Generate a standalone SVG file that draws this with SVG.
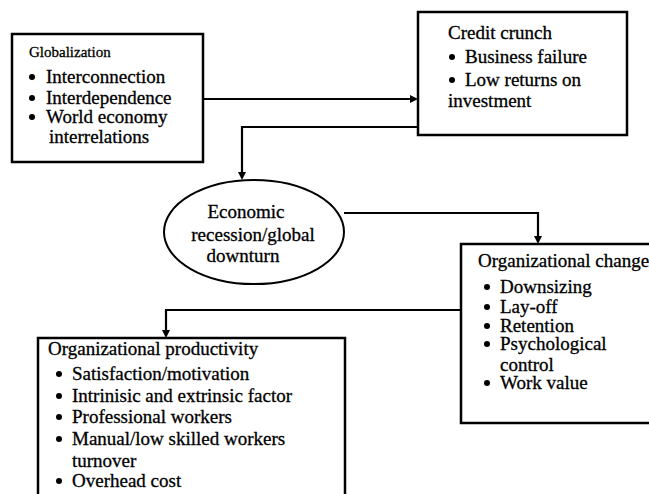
<svg xmlns="http://www.w3.org/2000/svg" width="649" height="494" viewBox="0 0 649 494">
<defs>
<style>
.box{fill:#fff;stroke:#000;stroke-width:2.5}
.b{fill:#000}
.conn{fill:none;stroke:#000;stroke-width:2.2}
.ah{fill:#000}
</style>
</defs>
<rect width="649" height="494" fill="#fff"/>
<g id="connectors">
<path class="conn" d="M203,99 H412"/>
<path class="ah" d="M410,95 L418,99 L410,103 z"/>
<path class="conn" d="M418,127 H242 V174"/>
<path class="ah" d="M238,172 L242,180 L246,172 z"/>
<path class="conn" d="M344,213 H538 V238"/>
<path class="ah" d="M534,236 L538,244 L542,236 z"/>
<path class="conn" d="M461,310 H166 V332"/>
<path class="ah" d="M162,330 L166,338 L170,330 z"/>
</g>
<g id="globalization">
<rect class="box" x="12" y="34" width="191" height="128"/>
<g font-family="Liberation Serif" font-size="19" fill="#000" stroke="#000" stroke-width="0.3">
<text font-size="15" x="29" y="57">Globalization</text>
<text x="46" y="83">Interconnection</text>
<text x="46" y="104">Interdependence</text>
<text x="46" y="123">World economy</text>
<text x="49" y="143">interrelations</text>
</g>
<circle class="b" cx="32" cy="77" r="3"/>
<circle class="b" cx="32" cy="98" r="3"/>
<circle class="b" cx="32" cy="117" r="3"/>
</g>
<g id="credit-crunch">
<rect class="box" x="418" y="12" width="209" height="123"/>
<g font-family="Liberation Serif" font-size="19" fill="#000" stroke="#000" stroke-width="0.3">
<text x="448" y="39">Credit crunch</text>
<text x="465" y="63">Business failure</text>
<text x="465" y="86">Low returns on</text>
<text x="448" y="107">investment</text>
</g>
<circle class="b" cx="452" cy="57" r="3"/>
<circle class="b" cx="452" cy="80" r="3"/>
</g>
<g id="recession">
<ellipse cx="254" cy="232" rx="90" ry="52" fill="#fff" stroke="#000" stroke-width="2"/>
<g font-family="Liberation Serif" font-size="19" fill="#000" stroke="#000" stroke-width="0.3" text-anchor="middle">
<text x="246" y="218">Economic</text>
<text x="253" y="241">recession/global</text>
<text x="243" y="262">downturn</text>
</g>
</g>
<g id="org-change">
<rect class="box" x="461" y="244" width="200" height="179"/>
<g font-family="Liberation Serif" font-size="19" fill="#000" stroke="#000" stroke-width="0.3">
<text x="478" y="267">Organizational change</text>
<text x="500" y="293">Downsizing</text>
<text x="500" y="313">Lay-off</text>
<text x="500" y="332">Retention</text>
<text x="500" y="350">Psychological</text>
<text x="500" y="371">control</text>
<text x="500" y="389">Work value</text>
</g>
<circle class="b" cx="487" cy="287" r="3"/>
<circle class="b" cx="487" cy="307" r="3"/>
<circle class="b" cx="487" cy="326" r="3"/>
<circle class="b" cx="487" cy="344" r="3"/>
<circle class="b" cx="487" cy="383" r="3"/>
</g>
<g id="org-productivity">
<rect class="box" x="38" y="338" width="307" height="170"/>
<g font-family="Liberation Serif" font-size="19" fill="#000" stroke="#000" stroke-width="0.3">
<text x="48" y="355">Organizational productivity</text>
<text x="72" y="380">Satisfaction/motivation</text>
<text x="72" y="402">Intrinisic and extrinsic factor</text>
<text x="72" y="423">Professional workers</text>
<text x="72" y="445">Manual/low skilled workers</text>
<text x="72" y="467">turnover</text>
<text x="72" y="487">Overhead cost</text>
</g>
<circle class="b" cx="59" cy="374" r="3"/>
<circle class="b" cx="59" cy="396" r="3"/>
<circle class="b" cx="59" cy="417" r="3"/>
<circle class="b" cx="59" cy="439" r="3"/>
<circle class="b" cx="59" cy="481" r="3"/>
</g>
</svg>
